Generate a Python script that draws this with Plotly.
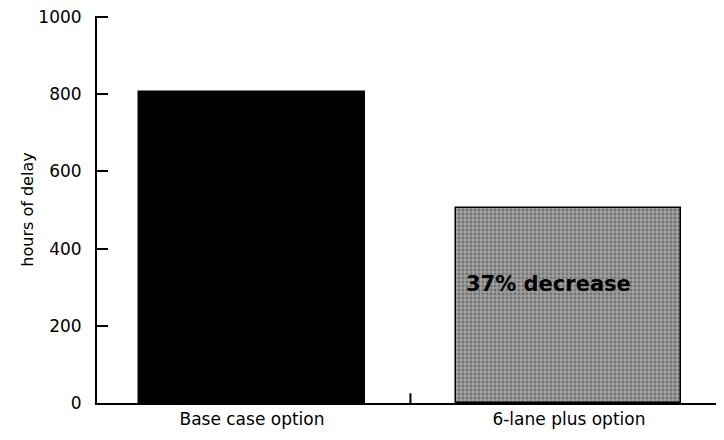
import plotly.graph_objects as go

categories = ["Base case option", "6-lane plus option"]
hours_of_delay = [805, 505]
y_ticks = [0, 200, 400, 600, 800, 1000]
note_text = "37% decrease"

FONT = "DejaVu Sans"

fig = go.Figure()
fig.add_trace(go.Bar(
    x=[0, 1],
    y=hours_of_delay,
    width=0.71,
    marker=dict(
        color=["#000000", "#a0a0a0"],
        line=dict(color="#000000", width=1.5),
        pattern=dict(shape=["", "."], fgcolor="#222222", size=4, solidity=0.4),
    ),
    showlegend=False,
))

fig.add_annotation(x=0.937, y=308, text="<b>" + note_text + "</b>", showarrow=False,
                   font=dict(size=21, color="#000000", family=FONT),
                   xref="x", yref="y")

fig.update_layout(
    width=708, height=424,
    margin=dict(l=89, r=0, t=8, b=29),
    plot_bgcolor="white", paper_bgcolor="white",
    font=dict(family=FONT, size=17, color="#000000"),
    bargap=0,
)
fig.update_xaxes(
    range=[-0.489, 1.464],
    tickmode="array", tickvals=[0, 1], ticktext=categories,
    showline=True, linecolor="#000000", linewidth=2,
    ticks="", showgrid=False, zeroline=False,
    tickfont=dict(size=17), automargin=False,
)
# category divider tick
fig.add_shape(type="line", xref="x", yref="y", x0=0.5, x1=0.5, y0=0, y1=25,
              line=dict(color="#000000", width=2))
fig.update_yaxes(
    range=[0, 1003],
    tickmode="array", tickvals=y_ticks,
    showline=True, linecolor="#000000", linewidth=2,
    ticks="inside", ticklen=11, tickwidth=2, tickcolor="#000000",
    showgrid=False, zeroline=False,
    ticklabelstandoff=10, ticklabeloverflow="allow",
    title=dict(text="hours of delay", font=dict(size=16), standoff=1),
    tickfont=dict(size=17), automargin=False,
)

fig.write_html("out.html")
